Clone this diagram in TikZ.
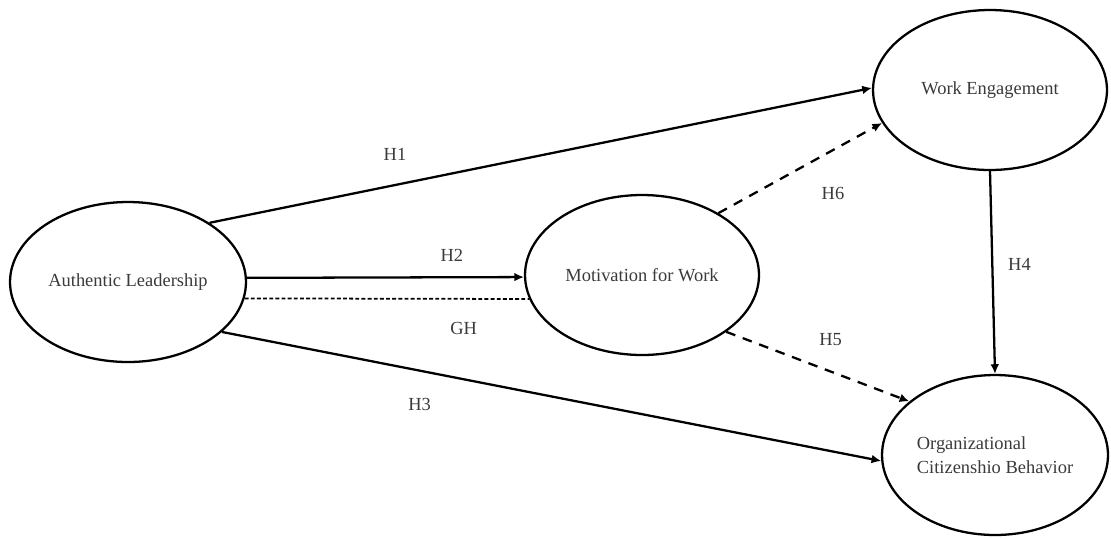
\documentclass[tikz,border=0pt]{standalone}
\usepackage{fontspec}
\setmainfont{Liberation Serif}
\usetikzlibrary{arrows.meta,shapes.geometric}
\definecolor{labelGray}{HTML}{3A3A3A}

\begin{document}
\begin{tikzpicture}[
  x=0.02cm, y=-0.02cm,
  font=\fontsize{10.5}{14}\selectfont,
  construct/.style={draw, ellipse, line width=1.3pt, inner sep=0pt,
    text=labelGray, minimum height=3.2cm},
  effect/.style={-{Latex[length=5.5pt, width=5pt]}, line width=1.3pt},
  mediated/.style={effect, dash pattern=on 5.5pt off 4.5pt},
  linkage/.style={line width=1pt, dash pattern=on 2.2pt off 1.3pt},
  hyp/.style={text=labelGray, inner sep=1pt},
]
\useasboundingbox (0,0) rectangle (1111,538);

% Constructs
\node[construct, minimum width=4.72cm] (al) at (128,282) {Authentic Leadership};
\node[construct, minimum width=4.68cm] (mw) at (642,275) {Motivation for Work};
\node[construct, minimum width=4.68cm] (we) at (990,90) {Work Engagement};
\node[construct, minimum width=4.52cm, align=left] (ocb) at (995,455)
  {Organizational\\Citizenshio Behavior};

% Direct effects
\draw[effect] (al.36) -- (we.179)
  node[hyp, pos=0.28, above=0.44cm] {H1};
\draw[effect] (al.2) -- (mw.181.5)
  node[hyp, pos=0.74, above=0.26cm] {H2};
\draw[effect] (al.-28) -- (ocb.183)
  node[hyp, pos=0.30, below=0.5cm] {H3};
\draw[effect] (we.south) -- (ocb.north)
  node[hyp, pos=0.46, right=0.26cm] {H4};

% Mediated paths
\draw[mediated] (mw.-34) -- (ocb.148)
  node[hyp, pos=0.57, above=0.46cm] {H5};
\draw[mediated] (mw.39) -- (we.197)
  node[hyp, pos=0.70, below=0.68cm] {H6};

% General hypothesis
\draw[linkage] (al.-8) -- (mw.192)
  node[hyp, pos=0.77, below=0.42cm] {GH};

\end{tikzpicture}
\end{document}
